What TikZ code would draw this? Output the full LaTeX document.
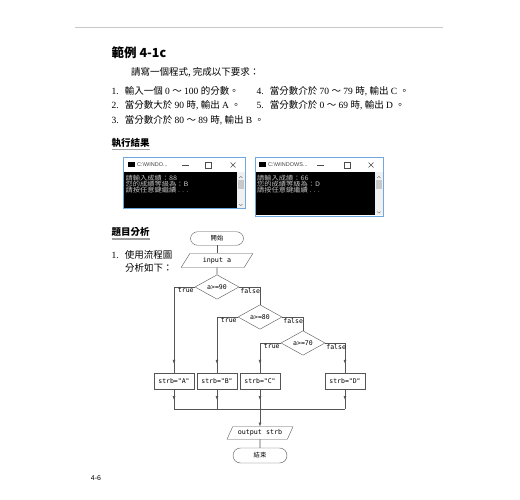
\documentclass[tikz,border=0pt]{standalone}
\usepackage{fontspec}
\usepackage{graphicx}
\setmainfont{Liberation Serif}
\newfontfamily\cjk{Noto Sans CJK TC}
\newfontfamily\flowmono{DejaVu Sans Mono}
\newfontfamily\uisans{Liberation Sans}
\newcommand{\zh}[1]{{\cjk #1}}
\newcommand{\conline}[1]{\scalebox{1.15}[1]{#1}}
\usetikzlibrary{arrows.meta, positioning, shapes.geometric, decorations.markings}
\definecolor{rulegray}{HTML}{C8C8C8}
\definecolor{linegray}{HTML}{555555}
\definecolor{winblue}{HTML}{6FA8DC}
\definecolor{context}{HTML}{C4C4C4}
\definecolor{scrollbg}{HTML}{F0F0F0}
\definecolor{scrollthumb}{HTML}{C8C8C8}

\begin{document}
\begin{tikzpicture}[x=1pt, y=-1pt,
    body/.style={anchor=west, inner sep=0pt, font=\fontsize{9.5}{11}\selectfont},
    heading/.style={anchor=west, inner sep=0pt, font=\cjk\bfseries\fontsize{9.5}{11}\selectfont},
    underline/.style={draw=gray!75, line width=1.5pt},
    terminal/.style={draw=linegray, rounded corners=7pt, minimum width=53pt,
                     minimum height=13.5pt, inner sep=0pt, font=\cjk\fontsize{6.3}{7}\selectfont},
    io/.style={draw=linegray, trapezium, trapezium left angle=55, trapezium right angle=125,
               trapezium stretches=true, minimum width=72pt, minimum height=14pt,
               inner sep=0pt, font=\flowmono\fontsize{6.7}{7}\selectfont},
    test/.style={draw=linegray, diamond, minimum width=44pt, minimum height=18pt,
                 inner sep=0pt, font=\flowmono\fontsize{6.5}{7}\selectfont},
    assign/.style={draw=linegray, minimum width=40pt, minimum height=16pt,
                   inner sep=0pt, font=\flowmono\fontsize{6.5}{7}\selectfont},
    branch/.style={inner sep=1pt, font=\flowmono\fontsize{6.5}{7}\selectfont},
    link/.style={draw=linegray, line width=0.6pt},
    flow/.style={link, postaction={decorate, decoration={markings,
                 mark=at position -9pt with {\arrow{Latex[length=4pt,width=3pt]}}}}},
    console/.style={anchor=north west, inner sep=0pt, align=left, text=context,
                    font=\cjk\fontsize{6.3}{5.9}\selectfont},
    wintitle/.style={anchor=west, inner sep=0pt, text=black!75, font=\uisans\fontsize{5.5}{6}\selectfont},
]
\useasboundingbox (0,0) rectangle (520,500);
\fill[white] (0,0) rectangle (520,500);
\draw[rulegray] (75,27) -- (443,27);

% example heading and requirements
\node[heading, font=\cjk\bfseries\fontsize{12.5}{14}\selectfont] (title) at (111.5,52.5) {範例 4-1c};
\node[body] (intro) at (131,72) {\zh{請寫一個程式,~完成以下要求：}};
\node[body] (req1) at (111.5,91) {1.\hspace{6pt}\zh{輸入一個} 0 \zh{～} 100 \zh{的分數。}};
\node[body] (req2) at (111.5,105.5) {2.\hspace{6pt}\zh{當分數大於} 90 \zh{時}, \zh{輸出} A \zh{。}};
\node[body] (req3) at (111.5,120) {3.\hspace{6pt}\zh{當分數介於} 80 \zh{～} 89 \zh{時}, \zh{輸出} B \zh{。}};
\node[body] (req4) at (256.5,91) {4.\hspace{6pt}\zh{當分數介於} 70 \zh{～} 79 \zh{時}, \zh{輸出} C \zh{。}};
\node[body] (req5) at (256.5,105.5) {5.\hspace{6pt}\zh{當分數介於} 0 \zh{～} 69 \zh{時}, \zh{輸出} D \zh{。}};

% run results
\node[heading] (runhead) at (111.5,142.5) {執行結果};
\draw[underline] (111.5,149.5) -- (149.5,149.5);

% console 1
\draw[winblue, fill=white] (123.5,157.5) rectangle (245.5,208.5);
\fill[black] (124,172.5) rectangle (245,208);
\fill[scrollbg] (236.5,172.5) rectangle (245,208);
\fill[scrollthumb] (237.5,180) rectangle (244,189);
\draw[gray, line width=0.4pt] (239,178) -- (240.8,176.3) -- (242.5,178);
\draw[gray, line width=0.4pt] (239,204) -- (240.8,205.7) -- (242.5,204);
\fill[black] (128,162.5) rectangle (135,167.5);
\node[wintitle] (win1) at (137,165) {C:\textbackslash WINDO...};
\draw[black!70, line width=0.4pt] (182,165) -- (189,165);
\draw[black!70, line width=0.4pt] (205,162) rectangle (211,168);
\draw[black!70, line width=0.4pt] (230.5,162.5) -- (235.5,167.5) (230.5,167.5) -- (235.5,162.5);
\node[console] (out1) at (125.5,174.5) {\conline{請輸入成績：88}\\\conline{您的成績等級為：B}\\\conline{請按任意鍵繼續 . . .}};

% console 2
\draw[winblue, fill=white] (255,157.5) rectangle (383.5,216);
\fill[black] (255.5,172.5) rectangle (383,215.5);
\fill[scrollbg] (374.5,172.5) rectangle (383,215.5);
\fill[scrollthumb] (375.5,180) rectangle (382,189);
\draw[gray, line width=0.4pt] (377,178) -- (378.8,176.3) -- (380.5,178);
\draw[gray, line width=0.4pt] (377,211.5) -- (378.8,213.2) -- (380.5,211.5);
\fill[black] (259,162.5) rectangle (266,167.5);
\node[wintitle] (win2) at (268,165) {C:\textbackslash WINDOWS...};
\draw[black!70, line width=0.4pt] (317,165) -- (324,165);
\draw[black!70, line width=0.4pt] (344,162) rectangle (350,168);
\draw[black!70, line width=0.4pt] (368.5,162.5) -- (373.5,167.5) (368.5,167.5) -- (373.5,162.5);
\node[console] (out2) at (257,174.5) {\conline{請輸入成績：66}\\\conline{您的成績等級為：D}\\\conline{請按任意鍵繼續 . . .}};

% analysis
\node[heading] (anahead) at (111.5,231.5) {題目分析};
\draw[underline] (111.5,239) -- (149.5,239);
\node[body] (step1) at (111.5,255) {1.\hspace{6pt}\zh{使用流程圖}};
\node[body] (step1b) at (125,267.5) {\zh{分析如下：}};

% flowchart
\node[terminal] (start) at (217,238.5) {開始};
\node[io] (input) at (217,260.5) {input a};
\node[test] (d90) at (217,287) {a>=90};
\node[test] (d80) at (260,317) {a>=80};
\node[test] (d70) at (303,343) {a>=70};
\node[assign] (boxA) at (174,381) {strb="A"};
\node[assign] (boxB) at (217,381) {strb="B"};
\node[assign] (boxC) at (260,381) {strb="C"};
\node[assign] (boxD) at (345,381) {strb="D"};
\coordinate (merge) at (260,409);
\node[io, minimum width=66pt, minimum height=12.5pt] (output) at (260,433) {output strb};
\node[terminal, minimum width=54pt, minimum height=15pt, rounded corners=7.5pt] (finish) at (260,455.5) {結束};

\draw[link] (start) -- (input);
\draw[link] (input) -- (d90);
\draw[flow] (d90.west) -| (boxA);
\draw[link] (d90.east) -| (d80);
\draw[flow] (d80.west) -| (boxB);
\draw[link] (d80.east) -| (d70);
\draw[flow] (d70.west) -| (boxC);
\draw[flow] (d70.east) -| (boxD);

\node[branch, anchor=north east] (t90) at (d90.west) {true};
\node[branch, anchor=north west] (f90) at (d90.east) {false};
\node[branch, anchor=north east] (t80) at (d80.west) {true};
\node[branch, anchor=north west] (f80) at (d80.east) {false};
\node[branch, anchor=north east] (t70) at (d70.west) {true};
\node[branch, anchor=north west] (f70) at (d70.east) {false};

\draw[flow] (boxA) -- (boxA |- merge);
\draw[flow] (boxB) -- (boxB |- merge);
\draw[flow] (boxC) -- (merge);
\draw[flow] (boxD) -- (boxD |- merge);
\draw[link] (boxA |- merge) -- (boxD |- merge);
\draw[link, -{Latex[length=4pt,width=3pt]}] (merge) -- (output);
\draw[link] (output) -- (finish);

\node[inner sep=0pt, font=\uisans\fontsize{7}{8}\selectfont] (pageno) at (96,478) {4-6};
\end{tikzpicture}
\end{document}
